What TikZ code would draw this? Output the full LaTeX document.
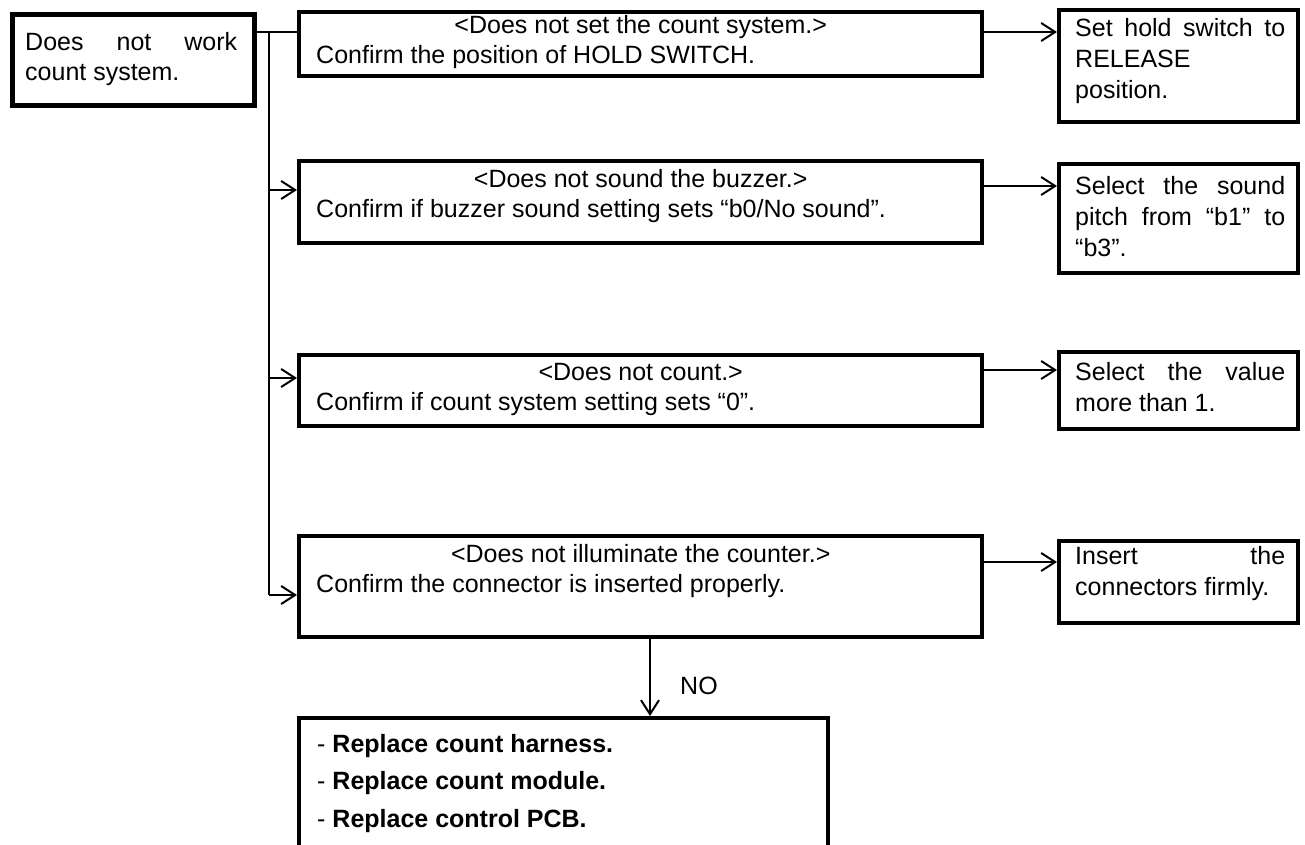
\documentclass[tikz,border=0pt]{standalone}
\usepackage{fontspec}
\setmainfont{Liberation Sans}
\usetikzlibrary{arrows.meta,calc}
\begin{document}
\begin{tikzpicture}[x=1pt,y=-1pt,
  box/.style={draw, line width=4pt, rectangle, inner sep=0pt, anchor=north west},
  thickbox/.style={box, line width=5pt},
  conn/.style={line width=2pt},
  arr/.style={line width=2pt, -{Straight Barb[length=14pt,width=18pt,line width=2pt]}},
  txt/.style={anchor=base west, inner sep=0pt, font=\fontsize{25}{30}\selectfont},
  rtxt/.style={anchor=base west, inner sep=0pt, font=\fontsize{25}{31}\selectfont},
  ltxt/.style={anchor=base west, inner sep=0pt, font=\fontsize{25}{37.5}\selectfont},
]
\useasboundingbox (0,0) rectangle (1305,845);

% boxes
\node[thickbox, minimum width=242pt, minimum height=91pt] (L) at (10,12) {};
\node[box, minimum width=683pt, minimum height=64pt] (A) at (297,10) {};
\node[box, minimum width=683pt, minimum height=82pt] (B) at (297,159) {};
\node[box, minimum width=683pt, minimum height=71pt] (C) at (297,353) {};
\node[box, minimum width=683pt, minimum height=101pt] (D) at (297,534) {};
\node[box, minimum width=529pt, minimum height=160pt] (E) at (297,716) {};
\node[box, minimum width=239pt, minimum height=112pt] (RA) at (1057,8) {};
\node[box, minimum width=239pt, minimum height=109pt] (RB) at (1057,162) {};
\node[box, minimum width=239pt, minimum height=77pt] (RC) at (1057,350) {};
\node[box, minimum width=239pt, minimum height=82pt] (RD) at (1057,539) {};

% texts
\node[txt] (tL) at (25,51) {\parbox[t]{212pt}{\makebox[\linewidth][s]{Does not work}\\count system.}};
\node[txt] (tA) at (316,34) {\parbox[t]{649pt}{\makebox[\linewidth]{<Does not set the count system.>}\\Confirm the position of HOLD SWITCH.}};
\node[txt] (tB) at (316,187) {\parbox[t]{649pt}{\makebox[\linewidth]{<Does not sound the buzzer.>}\\Confirm if buzzer sound setting sets “b0/No sound”.}};
\node[txt] (tC) at (316,380) {\parbox[t]{649pt}{\makebox[\linewidth]{<Does not count.>}\\Confirm if count system setting sets “0”.}};
\node[txt] (tD) at (316,562) {\parbox[t]{649pt}{\makebox[\linewidth]{<Does not illuminate the counter.>}\\Confirm the connector is inserted properly.}};
\node[rtxt] (tRA) at (1075,37) {\parbox[t]{210pt}{\makebox[\linewidth][s]{Set hold switch to}\\RELEASE\\position.}};
\node[rtxt] (tRB) at (1075,194) {\parbox[t]{210pt}{\makebox[\linewidth][s]{Select the sound}\\\makebox[\linewidth][s]{pitch from “b1” to}\\“b3”.}};
\node[rtxt] (tRC) at (1075,380) {\parbox[t]{210pt}{\makebox[\linewidth][s]{Select the value}\\more than 1.}};
\node[rtxt] (tRD) at (1075,564) {\parbox[t]{210pt}{\makebox[\linewidth][s]{Insert the}\\connectors firmly.}};
\node[ltxt] (tE) at (317,752) {\parbox[t]{480pt}{- \textbf{Replace count harness.}\\- \textbf{Replace count module.}\\- \textbf{Replace control PCB.}}};
\node[txt] (no) at (680,694) {NO};

% junction coordinates
\coordinate (j0) at (269,32);
\coordinate (jB) at (269,190);
\coordinate (jC) at (269,378);
\coordinate (jD) at (269,595);
\coordinate (ra) at (1020,32);
\coordinate (rb) at (1020,186);
\coordinate (rc) at (1020,370);
\coordinate (rd) at (1020,562);
\coordinate (nx) at (650,680);

% connectors
\draw[conn] (L.east |- j0) -- (A.west |- j0);
\draw[conn] (j0) -- (jD);
\draw[arr] (jB) -- (B.west |- jB);
\draw[arr] (jC) -- (C.west |- jC);
\draw[arr] (jD) -- (D.west |- jD);
\draw[arr] (A.east |- ra) -- (RA.west |- ra);
\draw[arr] (B.east |- rb) -- (RB.west |- rb);
\draw[arr] (C.east |- rc) -- (RC.west |- rc);
\draw[arr] (D.east |- rd) -- (RD.west |- rd);
\draw[arr] (D.south -| nx) -- (E.north -| nx);
\end{tikzpicture}
\end{document}
